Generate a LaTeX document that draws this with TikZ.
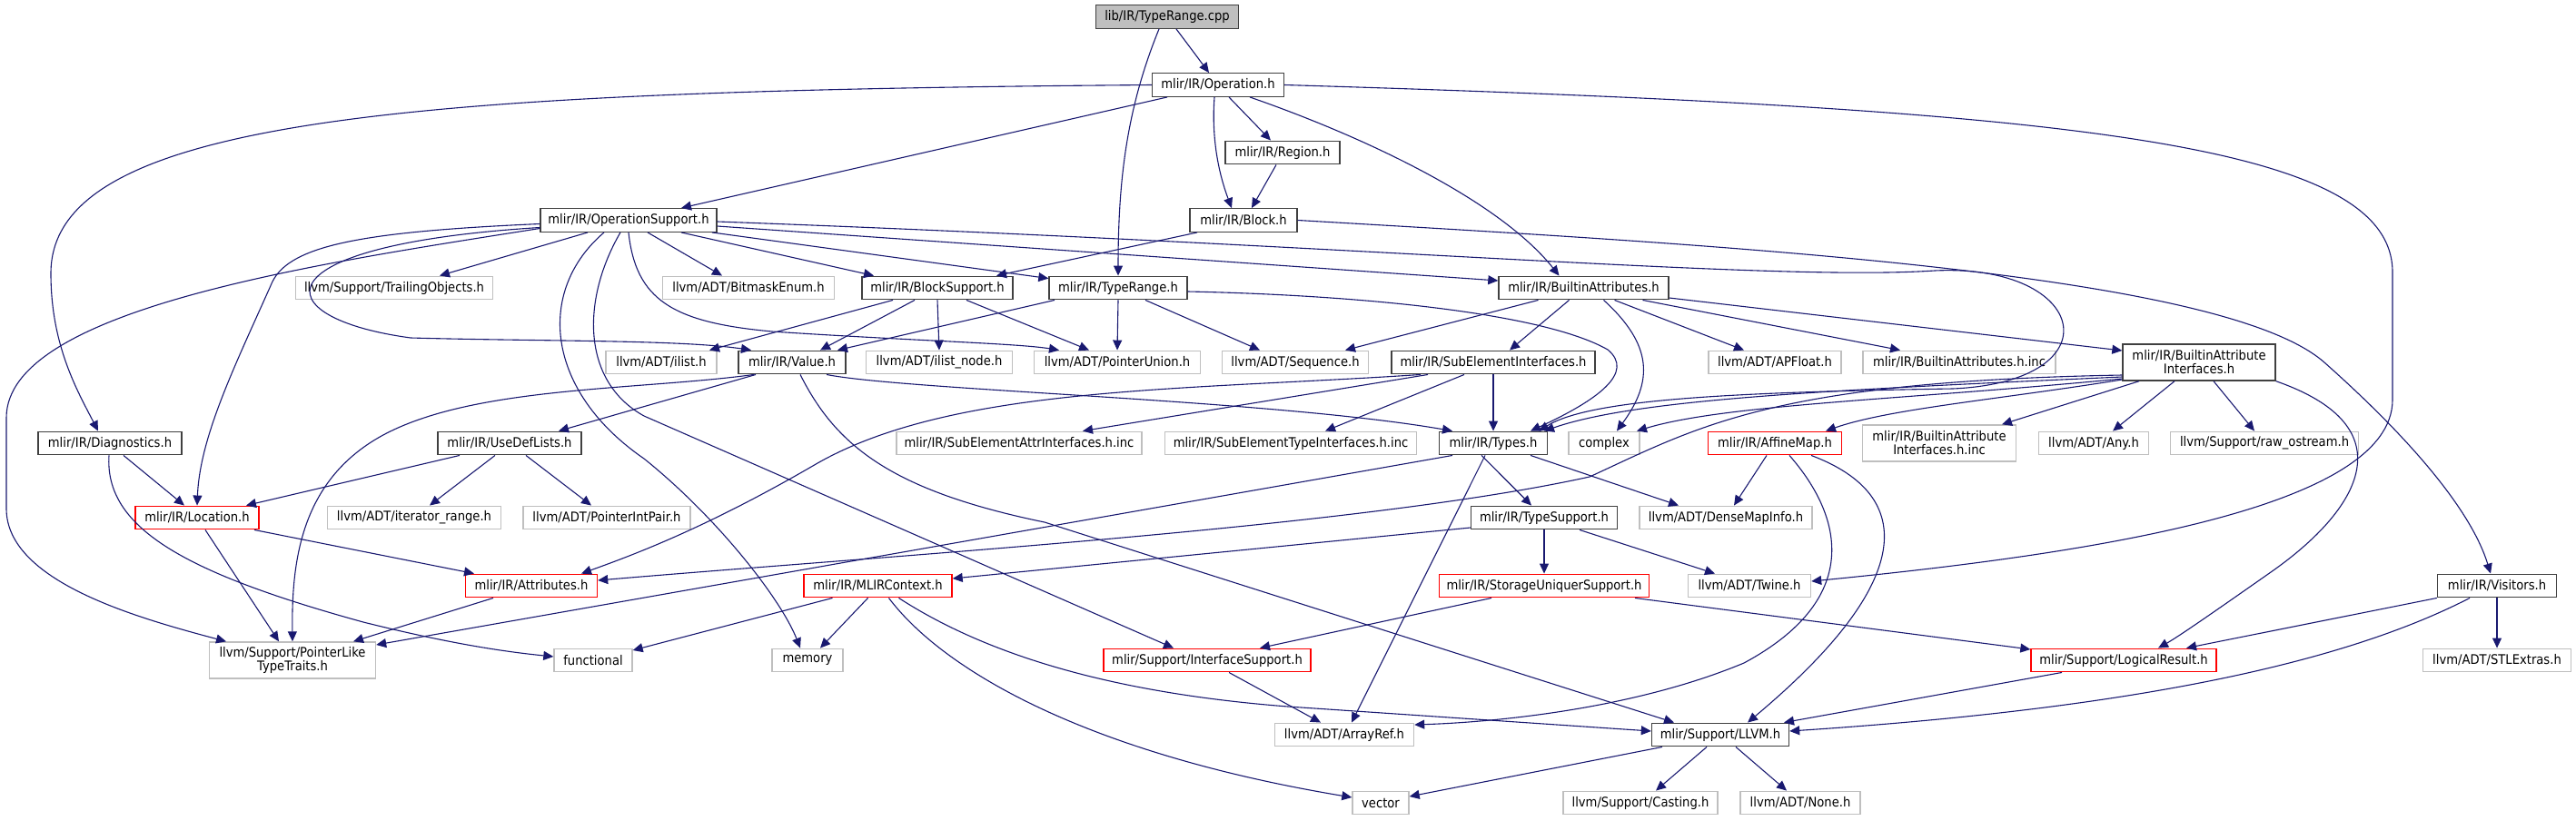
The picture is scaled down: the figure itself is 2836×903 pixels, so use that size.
\documentclass[tikz,border=0pt]{standalone}
\usepackage{fontspec}
\setmainfont{DejaVu Sans}[FakeStretch=0.9]
\usetikzlibrary{arrows.meta}
\definecolor{edgeblue}{RGB}{25,25,112}
\definecolor{hdrgray}{RGB}{64,64,64}
\definecolor{extgray}{RGB}{191,191,191}
\definecolor{cutred}{RGB}{255,0,0}
\begin{document}
\begin{tikzpicture}[x=1pt, y=-1pt,
  box/.style={rectangle, draw, line width=1.4pt, inner xsep=3pt, inner ysep=0pt,
    minimum height=25.5pt, minimum width=#1pt, align=center,
    font=\fontsize{14.6}{15}\selectfont},
  hdr/.style={box=#1, draw=hdrgray},
  ext/.style={box=#1, draw=extgray},
  cut/.style={box=#1, draw=cutred},
  root/.style={box=#1, draw=hdrgray, fill=extgray},
  tall/.style={minimum height=40pt},
  inc/.style={draw=edgeblue, line width=1.1pt, -{Triangle[length=11pt,width=10pt]}}]
  \useasboundingbox (0,0) rectangle (2836,903);

  \node[root=157] (cpp) at (1285,18.5) {lib/IR/TypeRange.cpp};
  \node[hdr=145] (op) at (1341,93.5) {mlir/IR/Operation.h};
  \node[hdr=126] (region) at (1412,168) {mlir/IR/Region.h};
  \node[hdr=194] (opsup) at (692,242.5) {mlir/IR/OperationSupport.h};
  \node[hdr=118] (block) at (1369,242.5) {mlir/IR/Block.h};
  \node[ext=217] (trail) at (434,317) {llvm/Support/TrailingObjects.h};
  \node[ext=189] (bitmask) at (824,317) {llvm/ADT/BitmaskEnum.h};
  \node[hdr=166] (blocksup) at (1032,317) {mlir/IR/BlockSupport.h};
  \node[hdr=152] (trange) at (1231,317) {mlir/IR/TypeRange.h};
  \node[hdr=187] (battr) at (1743.5,317) {mlir/IR/BuiltinAttributes.h};
  \node[ext=122] (ilist) at (728,399) {llvm/ADT/ilist.h};
  \node[hdr=118] (value) at (872,399) {mlir/IR/Value.h};
  \node[ext=161] (ilistnode) at (1034,399) {llvm/ADT/ilist\_node.h};
  \node[ext=183] (punion) at (1230,399) {llvm/ADT/PointerUnion.h};
  \node[ext=161] (seq) at (1426,399) {llvm/ADT/Sequence.h};
  \node[hdr=224] (subel) at (1644,399) {mlir/IR/SubElementInterfaces.h};
  \node[ext=146] (apfloat) at (1954,399) {llvm/ADT/APFloat.h};
  \node[ext=212] (battrinc) at (2157,399) {mlir/IR/BuiltinAttributes.h.inc};
  \node[hdr=168, tall] (baif) at (2421,399) {mlir/IR/BuiltinAttribute\\Interfaces.h};
  \node[hdr=158] (diag) at (121,488) {mlir/IR/Diagnostics.h};
  \node[hdr=158] (usedef) at (561,488) {mlir/IR/UseDefLists.h};
  \node[ext=270] (subattr) at (1122,488) {mlir/IR/SubElementAttrInterfaces.h.inc};
  \node[ext=277] (subtype) at (1421,488) {mlir/IR/SubElementTypeInterfaces.h.inc};
  \node[hdr=119] (types) at (1644,488) {mlir/IR/Types.h};
  \node[ext=78] (complex) at (1766,488) {complex};
  \node[cut=147] (affine) at (1954,488) {mlir/IR/AffineMap.h};
  \node[ext=169, tall] (baifinc) at (2135,488) {mlir/IR/BuiltinAttribute\\Interfaces.h.inc};
  \node[ext=121] (any) at (2305,488) {llvm/ADT/Any.h};
  \node[ext=207] (rawos) at (2493,488) {llvm/Support/raw\_ostream.h};
  \node[cut=136] (loc) at (217,570) {mlir/IR/Location.h};
  \node[ext=191] (iterr) at (456,570) {llvm/ADT/iterator\_range.h};
  \node[ext=184] (pip) at (668,570) {llvm/ADT/PointerIntPair.h};
  \node[hdr=161] (typesup) at (1700,570) {mlir/IR/TypeSupport.h};
  \node[ext=190] (dmi) at (1900,570) {llvm/ADT/DenseMapInfo.h};
  \node[cut=145] (attrs) at (585,645) {mlir/IR/Attributes.h};
  \node[cut=163] (ctx) at (966.5,645) {mlir/IR/MLIRContext.h};
  \node[cut=231] (storage) at (1700,645) {mlir/IR/StorageUniquerSupport.h};
  \node[ext=135] (twine) at (1926,645) {llvm/ADT/Twine.h};
  \node[hdr=131] (visitors) at (2749,645) {mlir/IR/Visitors.h};
  \node[ext=183, tall] (plt) at (322,727) {llvm/Support/PointerLike\\TypeTraits.h};
  \node[ext=86] (functional) at (653,727) {functional};
  \node[ext=78] (memory) at (889,727) {memory};
  \node[cut=228] (ifsup) at (1329,727) {mlir/Support/InterfaceSupport.h};
  \node[cut=204] (logres) at (2338,727) {mlir/Support/LogicalResult.h};
  \node[ext=163] (stlextras) at (2749,727) {llvm/ADT/STLExtras.h};
  \node[ext=153] (arrayref) at (1480,809) {llvm/ADT/ArrayRef.h};
  \node[hdr=151] (llvmh) at (1894,809) {mlir/Support/LLVM.h};
  \node[ext=62] (vector) at (1520,884) {vector};
  \node[ext=170] (casting) at (1806,884) {llvm/Support/Casting.h};
  \node[ext=132] (none) at (1982,884) {llvm/ADT/None.h};

  \draw[inc] ([xshift=10]cpp.south) -- ([xshift=-10]op.north);
  \draw[inc] ([xshift=-9]cpp.south) .. controls (1240,120) and (1231,200) .. (trange.north);
  \draw[inc] ([xshift=-56]op.south) -- ([xshift=58]opsup.north);
  \draw[inc] ([xshift=12]op.south) -- ([xshift=-13]region.north);
  \draw[inc] ([xshift=-4]op.south) .. controls (1333,160) and (1345,200) .. ([xshift=-13]block.north);
  \draw[inc] ([xshift=-7]region.south) -- ([xshift=9]block.north);
  \draw[inc] ([xshift=35]op.south) .. controls (1500,150) and (1650,220) .. ([xshift=-27]battr.north);
  \draw[inc] (op.west) .. controls (450,100) and (56,130) .. (56,301)
    .. controls (56,380) and (85,430) .. ([xshift=-13]diag.north);
  \draw[inc] (op.east) .. controls (2300,120) and (2634,160) .. (2634,300) -- (2634,440)
    .. controls (2634,560) and (2300,610) .. ([yshift=5]twine.east);

  \draw[inc] ([xshift=-51]block.south) -- ([xshift=65]blocksup.north);
  \draw[inc] (block.east) .. controls (1900,270) and (2450,300) .. (2560,400)
    .. controls (2650,480) and (2720,560) .. ([xshift=-7]visitors.north);

  \draw[inc] ([xshift=-45]opsup.south) -- ([xshift=50]trail.north);
  \draw[inc] ([xshift=21]opsup.south) -- ([xshift=-29]bitmask.north);
  \draw[inc] ([xshift=58]opsup.south) -- ([xshift=-70]blocksup.north);
  \draw[inc] ([xshift=92]opsup.south) -- ([yshift=-3]trange.north west);
  \draw[inc] ([yshift=-6.5]opsup.east) -- ([yshift=8]battr.west);
  \draw[inc] ([yshift=-1.5]opsup.east) .. controls (1500,270) and (1950,310) .. (2130,298)
    .. controls (2300,290) and (2330,420) .. (2150,428)
    .. controls (1900,432) and (1750,440) .. ([xshift=50]types.north);
  \draw[inc] ([yshift=-8]opsup.west) .. controls (280,270) and (290,350) .. (452,372)
    .. controls (600,376) and (750,374) .. ([xshift=-45]value.north);
  \draw[inc] ([yshift=-4]opsup.west) .. controls (400,255) and (320,270) .. (300,310)
    .. controls (260,400) and (220,480) .. (loc.north);
  \draw[inc] ([yshift=-9]opsup.west) .. controls (350,290) and (7,340) .. (7,460) -- (7,560)
    .. controls (7,640) and (150,680) .. ([xshift=-73]plt.north);
  \draw[inc] ([xshift=-27]opsup.south) .. controls (590,320) and (600,430) .. (709,505)
    .. controls (790,570) and (860,660) .. ([xshift=-8]memory.north);
  \draw[inc] ([xshift=-9]opsup.south) .. controls (640,330) and (640,420) .. (709,458)
    -- ([xshift=-37]ifsup.north);
  \draw[inc] (opsup.south) .. controls (700,330) and (740,355) .. (850,365)
    .. controls (1000,375) and (1120,378) .. ([xshift=-64]punion.north);

  \draw[inc] ([xshift=-70]trange.south) -- ([xshift=50]value.north);
  \draw[inc] (trange.south) -- (punion.north);
  \draw[inc] ([xshift=30]trange.south) -- ([xshift=-39]seq.north);
  \draw[inc] ([yshift=-4]trange.east) .. controls (1500,325) and (1700,345) .. (1770,385)
    .. controls (1800,410) and (1760,440) .. ([xshift=41]types.north);

  \draw[inc] ([xshift=-49]blocksup.south) -- ([xshift=53]ilist.north);
  \draw[inc] ([xshift=-25]blocksup.south) -- ([xshift=31]value.north);
  \draw[inc] (blocksup.south) -- (ilistnode.north);
  \draw[inc] ([xshift=32]blocksup.south) -- ([xshift=-31]punion.north);

  \draw[inc] ([xshift=-50]battr.south) -- ([xshift=55]seq.north);
  \draw[inc] ([xshift=-16]battr.south) -- ([xshift=18]subel.north);
  \draw[inc] ([xshift=22]battr.south) .. controls (1820,380) and (1820,420) .. ([xshift=14]complex.north);
  \draw[inc] ([xshift=34]battr.south) -- ([xshift=-34]apfloat.north);
  \draw[inc] ([xshift=65]battr.south) -- ([xshift=-65]battrinc.north);
  \draw[inc] ([yshift=-11]battr.east) -- ([yshift=13]baif.west);

  \draw[inc] ([xshift=-72]subel.south) -- ([xshift=70]subattr.north);
  \draw[inc] ([xshift=-80]subel.south) .. controls (1300,430) and (1050,425) .. (900,510)
    .. controls (780,580) and (700,610) .. ([xshift=55]attrs.north);
  \draw[inc] ([xshift=-32]subel.south) -- ([xshift=38]subtype.north);
  \draw[inc] (subel.south) -- (types.north);

  \draw[inc] ([xshift=-66]baif.south) -- ([xshift=69]baifinc.north);
  \draw[inc] ([xshift=-27]baif.south) -- ([xshift=21]any.north);
  \draw[inc] ([xshift=16]baif.south) -- ([xshift=-11]rawos.north);
  \draw[inc] (baif.south east) .. controls (2650,470) and (2600,560) .. (2500,630)
    .. controls (2450,665) and (2400,700) .. ([xshift=38]logres.north);
  \draw[inc] ([yshift=-16]baif.west) .. controls (2000,430) and (1800,440) .. ([xshift=56]types.north);
  \draw[inc] ([yshift=-18]baif.west) .. controls (2100,440) and (1900,445) .. ([xshift=36]complex.north);
  \draw[inc] ([yshift=-19]baif.west) .. controls (2200,440) and (2080,450) .. ([xshift=56]affine.north);
  \draw[inc] ([yshift=-14]baif.west) .. controls (1950,420) and (1870,470) .. (1750,525)
    .. controls (1500,580) and (1000,610) .. ([yshift=6]attrs.east);

  \draw[inc] ([xshift=-40]value.south) -- ([xshift=54]usedef.north);
  \draw[inc] ([xshift=-42]value.south) .. controls (700,430) and (520,425) .. (420,480)
    .. controls (330,530) and (321,620) .. (plt.north);
  \draw[inc] ([xshift=38]value.south) .. controls (1000,430) and (1400,440) .. ([xshift=-45]types.north);
  \draw[inc] ([xshift=9]value.south) .. controls (920,490) and (980,540) .. (1150,575)
    -- ([xshift=-51]llvmh.north);

  \draw[inc] ([xshift=-55]usedef.south) -- ([xshift=54]loc.north);
  \draw[inc] ([xshift=-16]usedef.south) -- ([xshift=17]iterr.north);
  \draw[inc] ([xshift=18]usedef.south) -- ([xshift=-17]pip.north);

  \draw[inc] ([xshift=15]diag.south) -- ([xshift=-14]loc.north);
  \draw[inc] ([xshift=-1]diag.south) .. controls (115,580) and (200,630) .. (400,685)
    .. controls (500,710) and (560,718) .. ([yshift=4]functional.west);

  \draw[inc] ([xshift=63]loc.south) -- ([xshift=-63]attrs.north);
  \draw[inc] ([xshift=9]loc.south) -- ([xshift=-15]plt.north);
  \draw[inc] ([xshift=-42]attrs.south) -- ([xshift=67]plt.north);

  \draw[inc] ([xshift=-45]types.south) -- ([yshift=17]plt.east);
  \draw[inc] ([xshift=-13]types.south) -- ([xshift=-14]typesup.north);
  \draw[inc] ([xshift=41]types.south) -- ([xshift=-52]dmi.north);
  \draw[inc] ([xshift=-9]types.south) -- ([xshift=8]arrayref.north);

  \draw[inc] ([yshift=-11]typesup.west) -- ([yshift=8]ctx.east);
  \draw[inc] (typesup.south) -- (storage.north);
  \draw[inc] ([xshift=39]typesup.south) -- ([xshift=-38]twine.north);

  \draw[inc] ([xshift=-9]affine.south) -- ([xshift=9]dmi.north);
  \draw[inc] ([xshift=16]affine.south) .. controls (2030,570) and (2050,660) .. (1920,730)
    .. controls (1800,780) and (1650,795) .. ([yshift=11]arrayref.east);
  \draw[inc] ([xshift=40]affine.south) .. controls (2110,545) and (2110,640) .. ([xshift=30]llvmh.north);

  \draw[inc] ([xshift=-50]ctx.south) -- ([yshift=11]functional.east);
  \draw[inc] ([xshift=-11]ctx.south) -- ([xshift=14]memory.north);
  \draw[inc] ([xshift=12]ctx.south) .. controls (1040,740) and (1200,830) .. ([yshift=6]vector.west);
  \draw[inc] ([xshift=23]ctx.south) .. controls (1100,730) and (1250,765) .. (1418,778)
    -- ([yshift=4]llvmh.west);

  \draw[inc] ([xshift=-58]storage.south) -- ([xshift=58]ifsup.north);
  \draw[inc] ([xshift=100]storage.south) -- ([yshift=12]logres.west);
  \draw[inc] ([xshift=24]ifsup.south) -- ([xshift=-26]arrayref.north);

  \draw[inc] (visitors.south west) -- ([xshift=69]logres.north);
  \draw[inc] ([xshift=-30]visitors.south) .. controls (2580,730) and (2350,780) .. ([yshift=4]llvmh.east);
  \draw[inc] (visitors.south) -- (stlextras.north);
  \draw[inc] ([xshift=-68]logres.south) -- ([xshift=70]llvmh.north);

  \draw[inc] ([xshift=-64]llvmh.south) -- ([yshift=7]vector.east);
  \draw[inc] ([xshift=-15]llvmh.south) -- ([xshift=17]casting.north);
  \draw[inc] ([xshift=17]llvmh.south) -- ([xshift=-15]none.north);
\end{tikzpicture}
\end{document}
